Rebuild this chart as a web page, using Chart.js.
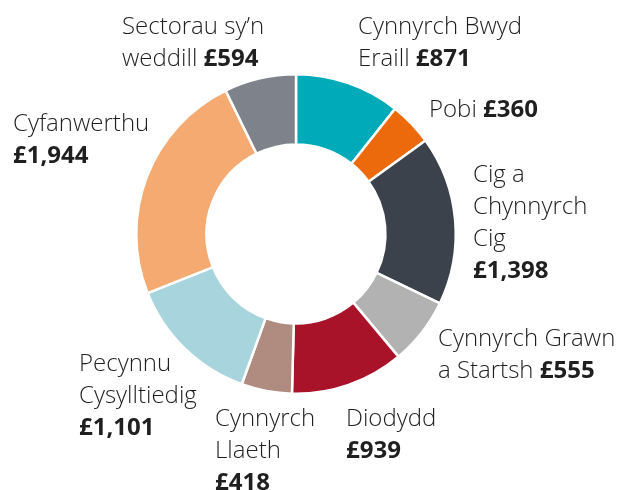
<!DOCTYPE html>
<html>
<head>
<meta charset="utf-8">
<script src="https://cdn.jsdelivr.net/npm/chart.js@4.4.0/dist/chart.umd.min.js"></script>
<style>
  html, body { margin: 0; padding: 0; background: #fff; }
  #wrap { width: 622px; height: 490px; position: relative; }
</style>
</head>
<body>
<div id="wrap"><canvas id="myChart"></canvas></div>
<script>
const categories = [
  'Cynnyrch Bwyd\nEraill',
  'Pobi',
  'Cig a\nChynnyrch\nCig',
  'Cynnyrch Grawn\na Startsh',
  'Diodydd',
  'Cynnyrch\nLlaeth',
  'Pecynnu\nCysylltiedig',
  'Cyfanwerthu',
  'Sectorau sy’n\nweddill'
];
const values = [871, 360, 1398, 555, 939, 418, 1101, 1944, 594];
const colours = ['#00aab8', '#ec6a0c', '#3b424c', '#b2b2b2', '#a8132a', '#af8c7f', '#a8d4dd', '#f4aa70', '#7e828b'];

// where each label sits (left x, first baseline y) and whether the value goes on its own line
const labelSpots = [
  [358, 34, false],
  [429, 117, false],
  [473, 182, true],
  [438, 346, false],
  [346, 426, true],
  [215, 426, true],
  [79, 371, true],
  [13, 131, true],
  [122, 34, false]
];

const fontFam = '"Open Sans", sans-serif';
const lineH = 32;

const outsideLabels = {
  id: 'outsideLabels',
  afterDraw(chart) {
    const c = chart.ctx;
    c.save();
    c.fillStyle = '#1f1f1f';
    c.textBaseline = 'alphabetic';
    c.textAlign = 'left';
    categories.forEach((cat, i) => {
      const [x, y, ownLine] = labelSpots[i];
      const lines = cat.split('\n');
      const val = '£' + values[i].toLocaleString('en-GB');
      c.font = '300 24px ' + fontFam;
      lines.forEach((ln, j) => {
        c.fillText(ln, x, y + j * lineH);
      });
      if (ownLine) {
        c.font = '700 24px ' + fontFam;
        c.fillText(val, x, y + lines.length * lineH);
      } else {
        const w = c.measureText(lines[lines.length - 1] + ' ').width;
        c.font = '700 24px ' + fontFam;
        c.fillText(val, x + w, y + (lines.length - 1) * lineH);
      }
    });
    c.restore();
  }
};

const ctx = document.getElementById('myChart');
const myChart = new Chart(ctx, {
  type: 'doughnut',
  data: {
    labels: categories,
    datasets: [{
      data: values,
      backgroundColor: colours,
      borderColor: '#ffffff',
      borderWidth: 2.5,
      hoverOffset: 0
    }]
  },
  options: {
    responsive: true,
    maintainAspectRatio: false,
    animation: false,
    cutout: '56%',
    layout: {
      padding: { left: 134, right: 164, top: 73, bottom: 95 }
    },
    plugins: {
      legend: { display: false },
      tooltip: { enabled: false }
    }
  },
  plugins: [outsideLabels]
});
</script>
</body>
</html>
